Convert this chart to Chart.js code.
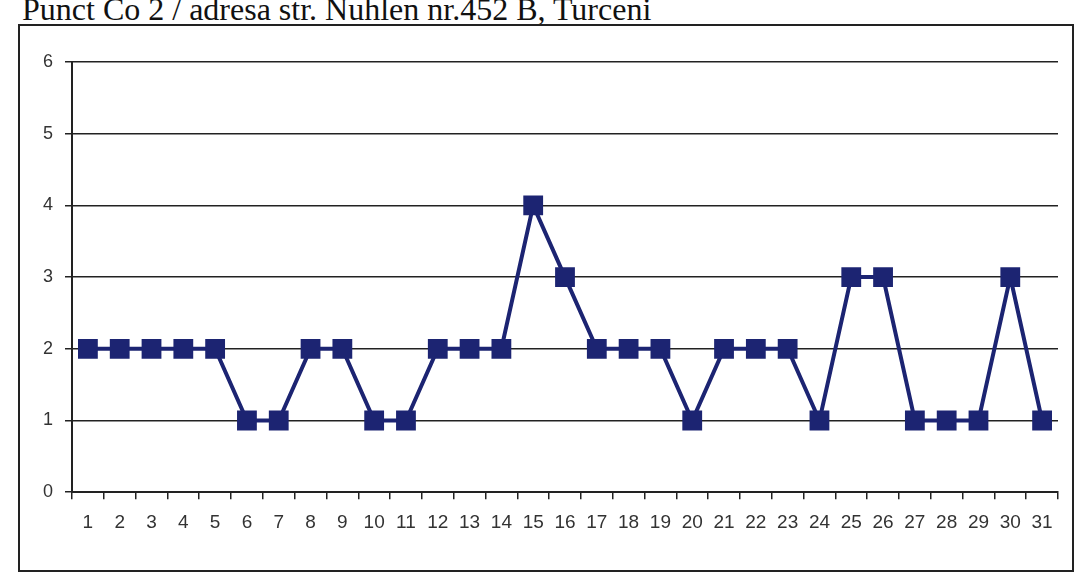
<!DOCTYPE html>
<html>
<head>
<meta charset="utf-8">
<script src="https://cdn.jsdelivr.net/npm/chart.js@4.4.1/dist/chart.umd.min.js"></script>
<style>
    body { margin: 0; background: #fff; width: 1084px; height: 576px; overflow: hidden; position: relative; }
    #title {
        position: absolute; left: 22px; top: -9px; white-space: nowrap;
        font-family: "Liberation Serif", serif; font-size: 32px; color: #111;
    }
    #box {
        position: absolute; left: 18px; top: 24px; width: 1052px; height: 544px;
        border: 2px solid #222;
    }
</style>
</head>
<body>
<div id="title">Punct Co 2 / adresa str. Nuhlen nr.452 B, Turceni</div>
<div id="box"><canvas id="myChart"></canvas></div>
<script>
var days = ['1', '2', '3', '4', '5', '6', '7', '8', '9', '10', '11', '12', '13', '14', '15', '16',
    '17', '18', '19', '20', '21', '22', '23', '24', '25', '26', '27', '28', '29', '30', '31'];
var values = [2, 2, 2, 2, 2, 1, 1, 2, 2, 1, 1, 2, 2, 2, 4, 3,
    2, 2, 2, 1, 2, 2, 2, 1, 3, 3, 1, 1, 1, 3, 1];
var yTicks = [0, 1, 2, 3, 4, 5, 6];

var ctx = document.getElementById('myChart').getContext('2d');
var navy = '#1c2472';

new Chart(ctx, {
    type: 'line',
    data: {
        labels: days,
        datasets: [{
            data: values,
            borderColor: navy,
            borderWidth: 4,
            pointStyle: 'rect',
            pointRadius: 14,
            pointBackgroundColor: navy,
            pointBorderColor: navy,
            pointBorderWidth: 0,
            tension: 0
        }]
    },
    options: {
        responsive: true,
        maintainAspectRatio: false,
        animation: false,
        layout: { padding: { top: 36, right: 4, bottom: 24, left: 0 } },
        plugins: { legend: { display: false }, tooltip: { enabled: false } },
        scales: {
            x: {
                offset: true,
                grid: { offset: true, drawOnChartArea: false, drawTicks: true, tickLength: 7, color: '#222', lineWidth: 1.5 },
                border: { color: '#222', width: 2 },
                ticks: { color: '#333', font: { family: 'Liberation Sans', size: 19 }, padding: 12, maxRotation: 0, autoSkip: false }
            },
            y: {
                min: yTicks[0],
                max: yTicks[yTicks.length - 1],
                afterFit: function (scale) { scale.width = 52; },
                afterBuildTicks: function (scale) {
                    scale.ticks = yTicks.map(function (v) { return { value: v }; });
                },
                grid: { color: '#222', lineWidth: 1.5, tickLength: 7 },
                border: { color: '#222', width: 2 },
                ticks: { color: '#333', font: { family: 'Liberation Sans', size: 18 }, padding: 12 }
            }
        }
    }
});
</script>
</body>
</html>
